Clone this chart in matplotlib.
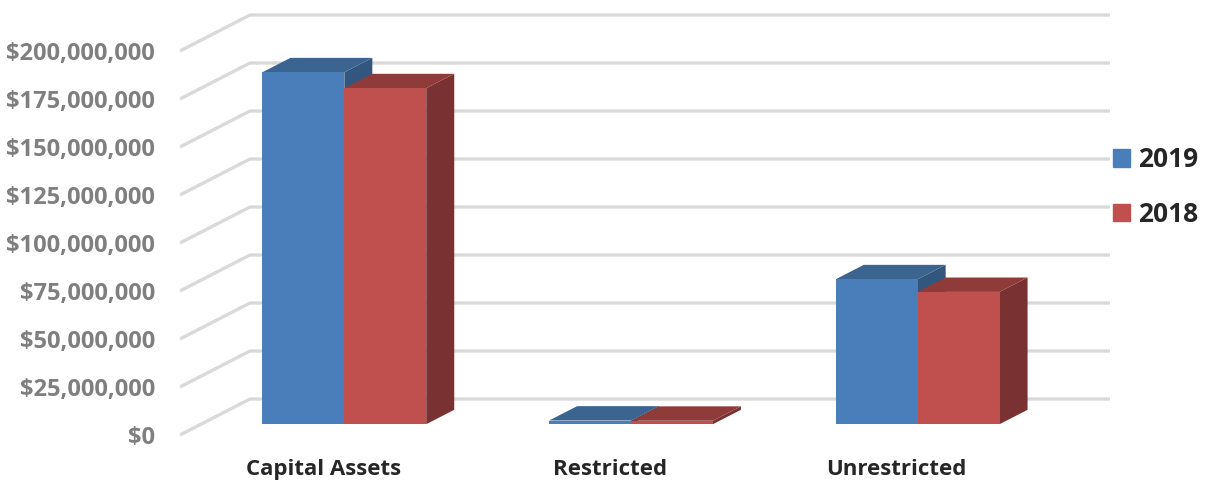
import matplotlib
matplotlib.use("Agg")
import matplotlib.pyplot as plt
from matplotlib.patches import Patch

# Net position by category, in dollars
categories = ["Capital Assets", "Restricted", "Unrestricted"]
years = ["2019", "2018"]
values_2019 = [183_300_000, 1_900_000, 75_500_000]
values_2018 = [175_000_000, 1_800_000, 68_900_000]
tick_values = [0, 25_000_000, 50_000_000, 75_000_000, 100_000_000,
               125_000_000, 150_000_000, 175_000_000, 200_000_000]

# Colours for each series: front, top, side faces
face_colors = {
    "2019": ("#4a7ebb", "#3c6491", "#33567f"),
    "2018": ("#c0504d", "#8f3b3a", "#7a3131"),
}

plt.rcParams["font.family"] = ["Open Sans", "DejaVu Sans"]
plt.rcParams["font.weight"] = "bold"

W, H = 1211, 483
fig = plt.figure(figsize=(W / 100, H / 100), dpi=100)
ax = fig.add_axes([180 / W, 48 / H, 930 / W, 420 / H])

n = len(categories)
# Oblique depth offset of the plot box (category units, dollars)
DX = 0.2442
DY = 18_750_000
ymax = tick_values[-1]
ax.set_xlim(0, n + DX)
ax.set_ylim(0, ymax + DY)

def proj(x, y, t):
    """Shift a point at depth fraction t toward the back wall."""
    return x + DX * t, y + DY * t

# Gridlines: diagonal on the left wall, horizontal on the back wall
for v in tick_values:
    xs = [0, DX, n + DX]
    ys = [v, v + DY, v + DY]
    ax.plot(xs, ys, color="#d9d9d9", lw=2.4, zorder=1,
            solid_capstyle="butt", clip_on=False)

# 3D boxes
bar_w = 1 / 3.5
t0, t1 = 0.3, 0.7

def draw_box(x0, x1, v, colors):
    front, top, side = colors
    fx, fy = [], []
    for (x, y) in [(x0, 0), (x1, 0), (x1, v), (x0, v)]:
        px, py = proj(x, y, t0)
        fx.append(px); fy.append(py)
    tx, ty = [], []
    for (x, t) in [(x0, t0), (x1, t0), (x1, t1), (x0, t1)]:
        px, py = proj(x, v, t)
        tx.append(px); ty.append(py)
    sx, sy = [], []
    for (y, t) in [(0, t0), (0, t1), (v, t1), (v, t0)]:
        px, py = proj(x1, y, t)
        sx.append(px); sy.append(py)
    ax.fill(sx, sy, color=side, lw=0, zorder=3)
    ax.fill(tx, ty, color=top, lw=0, zorder=3)
    ax.fill(fx, fy, color=front, lw=0, zorder=3)

for i in range(n):
    center = i + 0.5
    draw_box(center - bar_w, center, values_2019[i], face_colors["2019"])
    draw_box(center, center + bar_w, values_2018[i], face_colors["2018"])

# Axes decoration
for s in ax.spines.values():
    s.set_visible(False)
ax.set_yticks(tick_values)
ax.set_yticklabels([f"${v:,.0f}" for v in tick_values])
ax.tick_params(axis="y", length=0, pad=18, labelsize=17, labelcolor="#7f7f7f")
ax.set_xticks([i + 0.5 for i in range(n)])
ax.set_xticklabels(categories)
ax.tick_params(axis="x", length=0, pad=17, labelsize=16, labelcolor="#262626")
for lab in ax.get_xticklabels() + ax.get_yticklabels():
    lab.set_fontweight("bold")

handles = [Patch(color=face_colors[y][0]) for y in years]
leg = fig.legend(handles, years, loc="center left",
                 bbox_to_anchor=(1102 / W, 1 - 187 / H),
                 frameon=False, fontsize=19, handlelength=0.65,
                 handleheight=0.65, handletextpad=0.3, labelspacing=1.05,
                 borderaxespad=0)
for txt in leg.get_texts():
    txt.set_color("#262626")
    txt.set_fontweight("bold")

fig.savefig("out.png", dpi=100)
